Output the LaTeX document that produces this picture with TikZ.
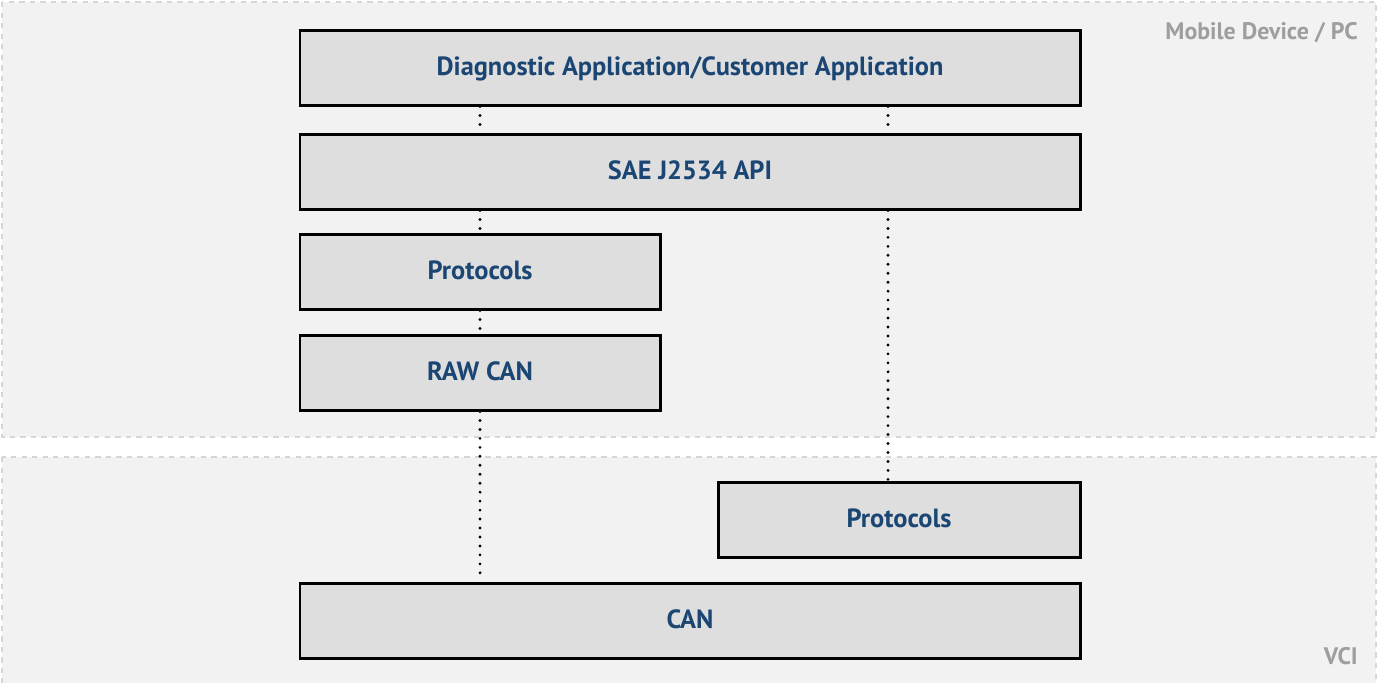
\documentclass[tikz,border=0pt]{standalone}
\usepackage{fontspec}
\setmainfont{PT Sans}
\usepackage{tikz}
\usetikzlibrary{positioning,calc}
\definecolor{zonefill}{HTML}{F2F2F2}
\definecolor{zoneline}{HTML}{D6D6D6}
\definecolor{layerfill}{HTML}{DEDEDE}
\definecolor{layertext}{HTML}{1B4674}
\definecolor{zonetext}{HTML}{9E9E9E}

\begin{document}
\begin{tikzpicture}[
  zone/.style={draw=zoneline,fill=zonefill,dashed,line width=0.6pt},
  zonelbl/.style={anchor=east,inner sep=0pt,text=zonetext,font=\fontsize{13.6}{16}\selectfont\bfseries},
  layer/.style={draw=black,fill=layerfill,line width=1.7pt,
                minimum height=1.5cm,inner sep=0pt,text height=9.5pt,text depth=0pt,
                text=layertext,font=\fontsize{15}{18}\selectfont\bfseries},
  link/.style={line width=1.8pt,line cap=round,dash pattern=on 0pt off 5.1pt}
]
\useasboundingbox (0,0) rectangle (27.56,-13.64);

% zones
\draw[zone] (0.04,-0.04) rectangle (27.52,-8.74);
\draw[zone] (0.04,-9.14) rectangle (27.52,-13.75);
\node[zonelbl] (pc)  at (27.16,-0.66)  {Mobile Device / PC};
\node[zonelbl] (vci) at (27.16,-13.13) {VCI};

% layers
\node[layer,minimum width=15.6cm] (app)    at (13.8,-1.35)  {Diagnostic Application/Customer Application};
\node[layer,minimum width=15.6cm] (api)    at (13.8,-3.43)  {SAE J2534 API};
\node[layer,minimum width=7.2cm]  (proto)  at (9.6,-5.43)   {Protocols};
\node[layer,minimum width=7.2cm]  (raw)    at (9.6,-7.45)   {RAW CAN};
\node[layer,minimum width=7.24cm] (vproto) at (17.98,-10.39) {Protocols};
\node[layer,minimum width=15.6cm] (can)    at (13.8,-12.41) {CAN};

\coordinate (rx) at (17.76,0);

% links
\draw[link] (app.south -| proto.north) -- (api.north -| proto.north);
\draw[link] (api.south -| proto.north) -- (proto.north);
\draw[link] (proto.south) -- (raw.north);
\draw[link] (raw.south) -- (can.north -| raw.south);
\draw[link] (app.south -| rx) -- (api.north -| rx);
\draw[link] (api.south -| rx) -- (vproto.north -| rx);
\end{tikzpicture}
\end{document}
